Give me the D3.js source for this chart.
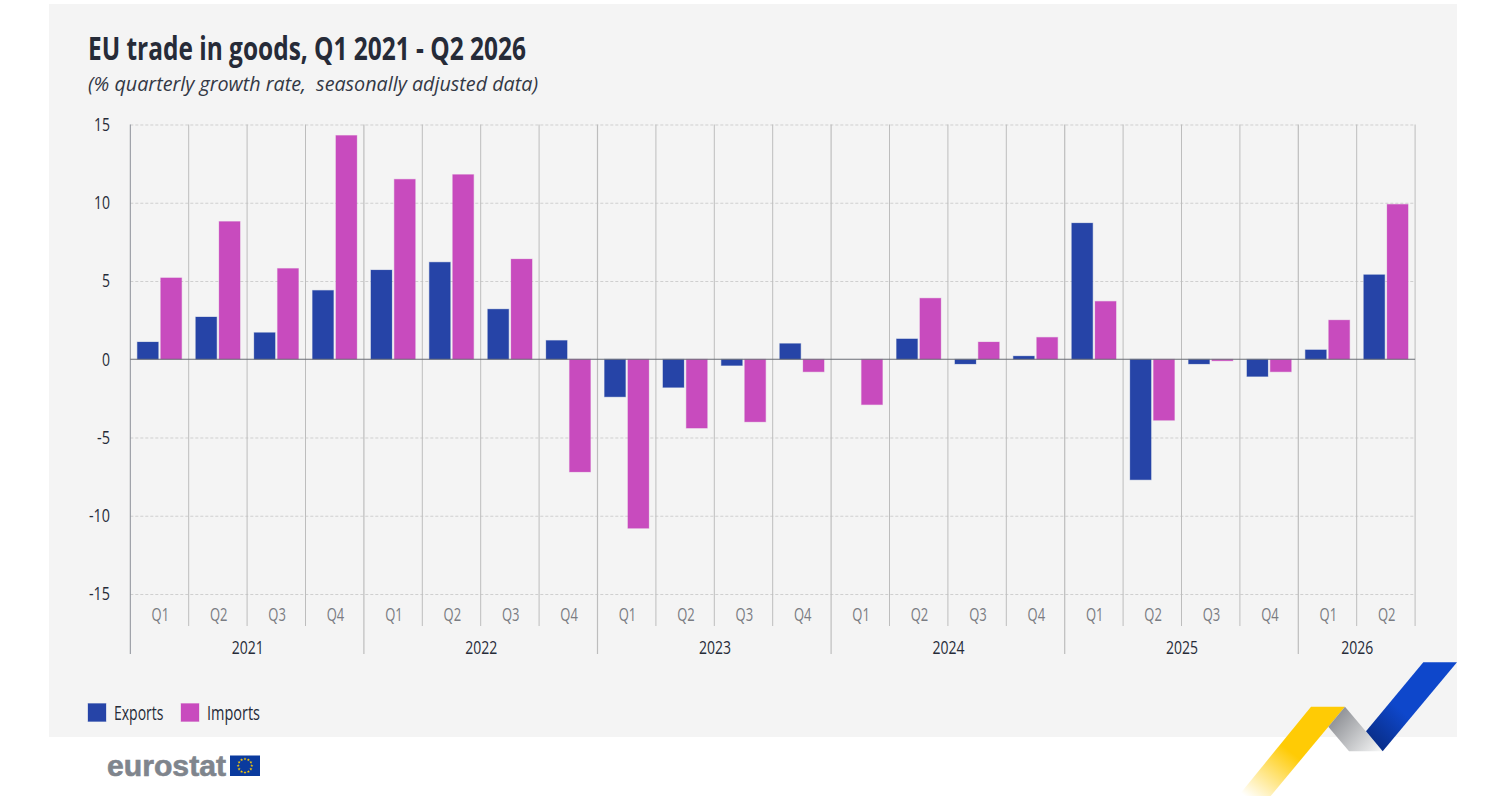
<!DOCTYPE html>
<html>
<head>
    <meta charset="utf-8">
    <title>EU trade in goods</title>
    <style>
        body { margin: 0; padding: 0; background: #ffffff; overflow: hidden; }
        svg { display: block; font-family: "Open Sans", Arial, sans-serif; }
    </style>
</head>
<body>
    <svg id="chart" width="1505" height="805"></svg>
    <script src="https://d3js.org/d3.v7.min.js"></script>
    <script>
        const years = ['2021', '2022', '2023', '2024', '2025', '2026'];
        const quartersPerYear = [4, 4, 4, 4, 4, 2];
        const quarters = ['Q1', 'Q2', 'Q3', 'Q4'];
        const seriesNames = ['Exports', 'Imports'];
        const exportsValues = [1.1, 2.7, 1.7, 4.4, 5.7, 6.2, 3.2, 1.2, -2.4, -1.8, -0.4, 1.0, 0, 1.3, -0.3, 0.2, 8.7, -7.7, -0.3, -1.1, 0.6, 5.4];
        const importsValues = [5.2, 8.8, 5.8, 14.3, 11.5, 11.8, 6.4, -7.2, -10.8, -4.4, -4.0, -0.8, -2.9, 3.9, 1.1, 1.4, 3.7, -3.9, -0.1, -0.8, 2.5, 9.9];
        const yTicks = [-15, -10, -5, 0, 5, 10, 15];

        const colors = { Exports: '#2644a7', Imports: '#c84bbe' };
        const dark = '#262b38';

        const svg = d3.select('#chart');

        // keys for every quarter, e.g. 2021-Q1
        const keys = [];
        years.forEach((yr, i) => {
            d3.range(quartersPerYear[i]).forEach(q => keys.push(yr + '-' + quarters[q]));
        });

        const x = d3.scaleBand().domain(keys).range([130.3, 1415.1]);
        const x1 = d3.scaleBand().domain(seriesNames).range([0, x.step()]).paddingInner(0.1).paddingOuter(0.3);
        const y = d3.scaleLinear().domain([-15, 15]).range([594, 124.5]);

        // text helper: squeezes the font to the measured width, no condensed face installed
        function label(txt, px, py, size, width, opts) {
            opts = opts || {};
            return svg.append('text')
                .attr('x', px)
                .attr('y', py)
                .attr('font-size', size)
                .attr('fill', opts.fill || dark)
                .attr('font-weight', opts.weight || 400)
                .attr('font-style', opts.italic ? 'italic' : 'normal')
                .attr('font-family', opts.family || null)
                .attr('text-anchor', opts.anchor || 'start')
                .attr('textLength', width)
                .attr('lengthAdjust', 'spacingAndGlyphs')
                .text(txt);
        }

        // gradients for the ribbon
        const defs = svg.append('defs');
        function gradient(id, x1g, y1g, x2g, y2g, stops) {
            const g = defs.append('linearGradient').attr('id', id)
                .attr('gradientUnits', 'userSpaceOnUse')
                .attr('x1', x1g).attr('y1', y1g).attr('x2', x2g).attr('y2', y2g);
            stops.forEach(s => g.append('stop').attr('offset', s[0]).attr('stop-color', s[1]).attr('stop-opacity', s[2]));
        }
        gradient('grad-yellow', 1300, 725, 1245, 796, [[0, '#ffcb05', 1], [0.3, '#ffcb05', 1], [1, '#ffcb05', 0]]);
        gradient('grad-grey', 1335, 715, 1378, 752, [[0, '#8e9095', 1], [1, '#f2f3f3', 1]]);
        gradient('grad-blue', 1440, 680, 1372, 750, [[0, '#0e47cb', 1], [0.5, '#0e47cb', 1], [1, '#082a7f', 1]]);

        // panel
        svg.append('rect').attr('x', 49).attr('y', 4).attr('width', 1408).attr('height', 733).attr('fill', '#f4f4f4');

        // ribbon
        const ribbon = [
            ['url(#grad-yellow)', [[1311, 706.7], [1345, 706.7], [1270.7, 796], [1238.3, 796]]],
            ['url(#grad-grey)', [[1345, 706.7], [1382.7, 751.3], [1349, 751.3], [1328.3, 726.7]]],
            ['url(#grad-blue)', [[1423.3, 662.3], [1457, 662.3], [1382.7, 751.3], [1366, 731.3]]]
        ];
        ribbon.forEach(r => {
            svg.append('polygon').attr('points', r[1].map(p => p.join(',')).join(' ')).attr('fill', r[0]);
        });

        // title
        label('EU trade in goods, Q1 2021 - Q2 2026', 88, 59.5, 32.5, 438, { weight: 700 });
        label('(% quarterly growth rate,  seasonally adjusted data)', 88, 91, 20.5, 450, { italic: true, fill: '#333845' }).attr('xml:space', 'preserve');

        // horizontal grid
        svg.append('g').selectAll('line')
            .data(yTicks.filter(d => d !== 0))
            .join('line')
            .attr('x1', x.range()[0]).attr('x2', x.range()[1])
            .attr('y1', d => y(d) + 0.5).attr('y2', d => y(d) + 0.5)
            .attr('stroke', '#cfcfcf')
            .attr('stroke-dasharray', '3,2');

        // y axis labels, plain hyphen for negatives like the original
        const yAxis = svg.append('g')
            .attr('transform', 'translate(110,0)')
            .call(d3.axisLeft(y).tickValues(yTicks).tickSize(0).tickPadding(0).tickFormat(d => String(d)));
        yAxis.select('.domain').remove();
        yAxis.selectAll('text')
            .attr('font-size', 18.5)
            .attr('font-family', '"Open Sans", Arial, sans-serif')
            .attr('fill', dark)
            .attr('textLength', d => (d < 0 ? 5 : 0) + (Math.abs(d) >= 10 ? 16 : 8))
            .attr('lengthAdjust', 'spacingAndGlyphs');

        // vertical separators
        let idx = 0;
        const yearStarts = [];
        years.forEach((yr, i) => {
            yearStarts.push(idx);
            idx += quartersPerYear[i];
        });
        d3.range(keys.length + 1).forEach(k => {
            const px = x.range()[0] + k * x.step();
            const isYear = yearStarts.includes(k);
            svg.append('line')
                .attr('x1', px).attr('x2', px)
                .attr('y1', 124.5)
                .attr('y2', isYear ? 654 : 626)
                .attr('stroke', k === 0 ? '#8b8f98' : '#bdbdbd')
                .attr('stroke-width', isYear && k > 0 ? 1.2 : 1);
        });

        // bars
        const rows = keys.map((key, i) => ({ key: key, Exports: exportsValues[i], Imports: importsValues[i] }));
        seriesNames.forEach(name => {
            svg.append('g').selectAll('rect')
                .data(rows.filter(d => d[name] !== 0))
                .join('rect')
                .attr('x', d => x(d.key) + x1(name))
                .attr('y', d => y(Math.max(0, d[name])))
                .attr('width', x1.bandwidth())
                .attr('height', d => Math.abs(y(d[name]) - y(0)))
                .attr('fill', colors[name])
                .attr('stroke', colors[name])
                .attr('stroke-opacity', 0.3)
                .attr('stroke-width', 1);
        });

        // zero line
        svg.append('line')
            .attr('x1', x.range()[0]).attr('x2', x.range()[1])
            .attr('y1', y(0)).attr('y2', y(0))
            .attr('stroke', '#6b6e75')
            .attr('stroke-width', 1);

        // quarter labels
        svg.append('g').selectAll('text')
            .data(keys)
            .join('text')
            .attr('x', d => x(d) + x.bandwidth() / 2 + 0.8)
            .attr('y', 621)
            .attr('text-anchor', 'middle')
            .attr('font-size', 18.5)
            .attr('fill', '#7a7c82')
            .attr('textLength', 17.5)
            .attr('lengthAdjust', 'spacingAndGlyphs')
            .text(d => d.split('-')[1]);

        // year labels
        years.forEach((yr, i) => {
            const first = keys[yearStarts[i]];
            const cx = x(first) + quartersPerYear[i] * x.step() / 2;
            label(yr, cx + 0.6, 654, 19, 32, { anchor: 'middle' });
        });

        // legend
        const legendX = [88, 181];
        const legendTextX = [114, 207];
        const legendW = [49.5, 53];
        seriesNames.forEach((name, i) => {
            svg.append('rect')
                .attr('x', legendX[i]).attr('y', 703.5)
                .attr('width', 18).attr('height', 18)
                .attr('fill', colors[name])
                .attr('stroke', colors[name]).attr('stroke-opacity', 0.3);
            label(name, legendTextX[i], 720, 19.5, legendW[i]);
        });

        // eurostat logo
        label('eurostat', 107, 775.5, 30, 119, { weight: 700, fill: '#7f858d', family: '"Liberation Sans", Arial, sans-serif' })
            .attr('stroke', '#7f858d').attr('stroke-width', 0.6);
        svg.append('rect').attr('x', 230).attr('y', 755.5).attr('width', 30).attr('height', 20.5).attr('fill', '#0a3a9e');
        const star = d3.symbol().type(d3.symbolStar).size(3);
        svg.append('g').selectAll('path')
            .data(d3.range(12))
            .join('path')
            .attr('d', star)
            .attr('transform', d => {
                const a = d / 12 * 2 * Math.PI;
                return 'translate(' + (245 + 6.8 * Math.cos(a)) + ',' + (765.7 + 6.8 * Math.sin(a)) + ')';
            })
            .attr('fill', '#ffcc00');
    </script>
</body>
</html>
